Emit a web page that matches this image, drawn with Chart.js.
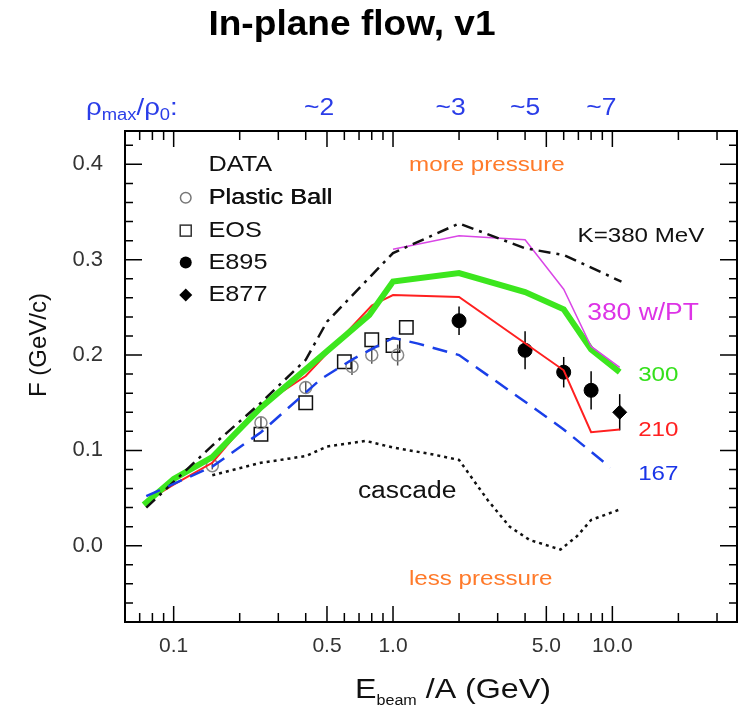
<!DOCTYPE html>
<html>
<head>
<meta charset="utf-8">
<script src="https://cdn.jsdelivr.net/npm/chart.js@4.4.1/dist/chart.umd.min.js"></script>
<style>
  html, body { margin: 0; padding: 0; background: #fff; }
</style>
</head>
<body>
<canvas id="flowChart" width="748" height="707"></canvas>
<script>
// Model curves (E_beam/A in GeV, F in GeV/c)
const k380X = [0.075, 0.15, 0.25, 0.4, 0.5, 1.0, 2.0, 4.0, 6.0, 11.0];
const k380Y = [0.040, 0.105, 0.150, 0.195, 0.235, 0.307, 0.338, 0.312, 0.305, 0.277];

const ptX = [1.0, 2.0, 4.0, 6.0, 8.0, 10.8];
const ptY = [0.311, 0.325, 0.321, 0.269, 0.209, 0.187];

const k300X = [0.073, 0.1, 0.15, 0.25, 0.4, 0.78, 1.0, 2.0, 4.0, 6.0, 8.0, 10.8];
const k300Y = [0.043, 0.070, 0.093, 0.145, 0.185, 0.242, 0.277, 0.286, 0.266, 0.248, 0.206, 0.182];

const k210X = [0.073, 0.1, 0.15, 0.25, 0.4, 0.8, 1.0, 2.0, 6.0, 8.0, 10.8];
const k210Y = [0.045, 0.064, 0.087, 0.147, 0.178, 0.252, 0.263, 0.261, 0.184, 0.119, 0.122];

const k167X = [0.075, 0.15, 0.25, 0.47, 0.66, 1.0, 1.3, 2.0, 4.0, 6.0, 9.8];
const k167Y = [0.052, 0.083, 0.119, 0.175, 0.196, 0.218, 0.212, 0.200, 0.151, 0.122, 0.082];

const cascX = [0.15, 0.25, 0.4, 0.5, 0.75, 1.0, 1.5, 2.0, 2.7, 3.4, 4.2, 5.8, 6.9, 8.0, 10.8];
const cascY = [0.074, 0.087, 0.094, 0.104, 0.110, 0.103, 0.096, 0.090, 0.048, 0.020, 0.006, -0.004, 0.010, 0.027, 0.038];

// Data
const pbX = [0.15, 0.25, 0.4, 0.65, 0.8, 1.05];
const pbY = [0.084, 0.129, 0.166, 0.188, 0.200, 0.200];
const pbErr = [0.004, 0.006, 0.006, 0.009, 0.009, 0.011];

const eosX = [0.25, 0.4, 0.6, 0.8, 1.0, 1.15];
const eosY = [0.117, 0.150, 0.193, 0.216, 0.210, 0.229];

const e895X = [2.0, 4.0, 6.0, 8.0];
const e895Y = [0.236, 0.205, 0.182, 0.163];
const e895Err = [0.015, 0.020, 0.016, 0.020];

const e877X = [10.8];
const e877Y = [0.140];
const e877Err = [0.019];

// Axis ticks
const xMajor = [0.1, 0.5, 1, 5, 10];
const xMajorLabels = ['0.1', '0.5', '1.0', '5.0', '10.0'];
const xMinor = [0.07, 0.08, 0.09, 0.2, 0.3, 0.4, 0.6, 0.7, 0.8, 0.9, 2, 3, 4, 6, 7, 8, 9, 20, 30];
const yMajor = [0.0, 0.1, 0.2, 0.3, 0.4];
const yMinor = [-0.06, -0.04, -0.02, 0.02, 0.04, 0.06, 0.08, 0.12, 0.14, 0.16, 0.18, 0.22, 0.24, 0.26, 0.28, 0.32, 0.34, 0.36, 0.38, 0.42];

// rho_max/rho_0 labels along top axis
const rhoX = [0.46, 1.83, 4.0, 8.9];
const rhoLabels = ['~2', '~3', '~5', '~7'];

const toPts = (xs, ys) => xs.map((v, i) => ({x: v, y: ys[i]}));

const FONT = 'Liberation Sans, Arial, sans-serif';
const SX = 1.15; // text in the original is a bit wide

const lineSet = (label, xs, ys, color, width, dash) => ({
    type: 'line',
    label: label,
    data: toPts(xs, ys),
    borderColor: color,
    borderWidth: width,
    borderDash: dash,
    pointRadius: 0,
    fill: false,
    tension: 0
});

// draw stretched text at pixel position
function wideText(ctx, str, px, py, align) {
    ctx.save();
    ctx.translate(px, py);
    ctx.scale(SX, 1);
    ctx.textAlign = align || 'center';
    ctx.fillText(str, 0, 0);
    ctx.restore();
}

// text made of runs with subscripts, left aligned at px
function runs(ctx, parts, px, base, color) {
    ctx.save();
    ctx.translate(px, base);
    ctx.scale(SX, 1);
    ctx.fillStyle = color;
    ctx.textAlign = 'left';
    ctx.textBaseline = 'alphabetic';
    let cx = 0;
    parts.forEach(([s, size, dy]) => {
        ctx.font = size + 'px ' + FONT;
        ctx.fillText(s, cx, dy);
        cx += ctx.measureText(s).width;
    });
    ctx.restore();
}

// frame, ticks, error bars, text
const decorations = {
    id: 'decorations',
    beforeDatasetsDraw(chart) {
        const {ctx, scales: {x, y}} = chart;
        ctx.save();
        ctx.lineWidth = 1.5;
        const bars = (xs, ys, es, color) => {
            ctx.strokeStyle = color;
            xs.forEach((v, i) => {
                const px = x.getPixelForValue(v);
                ctx.beginPath();
                ctx.moveTo(px, y.getPixelForValue(ys[i] - es[i]));
                ctx.lineTo(px, y.getPixelForValue(ys[i] + es[i]));
                ctx.stroke();
            });
        };
        bars(pbX, pbY, pbErr, '#555');
        bars(e895X, e895Y, e895Err, '#000');
        bars(e877X, e877Y, e877Err, '#000');
        ctx.restore();
    },
    afterDatasetsDraw(chart) {
        const {ctx, chartArea: a, scales: {x, y}} = chart;
        ctx.save();

        // frame
        ctx.strokeStyle = '#000';
        ctx.lineWidth = 2;
        ctx.strokeRect(a.left, a.top, a.right - a.left, a.bottom - a.top);

        // inward ticks on all sides
        ctx.lineWidth = 1.5;
        const xTick = (v, len) => {
            const px = x.getPixelForValue(v);
            ctx.beginPath();
            ctx.moveTo(px, a.bottom); ctx.lineTo(px, a.bottom - len);
            ctx.moveTo(px, a.top); ctx.lineTo(px, a.top + len);
            ctx.stroke();
        };
        const yTick = (v, len) => {
            const py = y.getPixelForValue(v);
            ctx.beginPath();
            ctx.moveTo(a.left, py); ctx.lineTo(a.left + len, py);
            ctx.moveTo(a.right, py); ctx.lineTo(a.right - len, py);
            ctx.stroke();
        };
        xMajor.forEach(v => xTick(v, 16));
        xMinor.forEach(v => xTick(v, 9));
        yMajor.forEach(v => yTick(v, 17));
        yMinor.forEach(v => yTick(v, 8));

        ctx.textBaseline = 'middle';
        const text = (str, vx, vy, color, size, align, weight) => {
            ctx.font = (weight || 'normal') + ' ' + size + 'px ' + FONT;
            ctx.fillStyle = color;
            wideText(ctx, str, x.getPixelForValue(vx), y.getPixelForValue(vy), align);
        };

        text('more pressure', 2.68, 0.399, '#ff7a2a', 21);
        text('less pressure', 2.51, -0.035, '#ff7a2a', 21);
        text('K=380 MeV', 13.5, 0.325, '#111', 21);
        text('380 w/PT', 13.8, 0.2435, '#dd33e6', 23);
        text('300', 16.2, 0.179, '#33e01a', 21);
        text('210', 16.2, 0.121, '#ff2020', 21);
        text('167', 16.2, 0.075, '#1a35e8', 21);
        text('cascade', 1.16, 0.057, '#111', 23);

        // legend
        const lx = x.getPixelForValue(0.1135);
        text('DATA', 0.144, 0.3995, '#111', 22, 'left');
        text('Plastic Ball', 0.144, 0.365, '#111', 22, 'left');
        ctx.font = '22px ' + FONT;
        wideText(ctx, 'Plastic Ball', x.getPixelForValue(0.144) + 0.6, y.getPixelForValue(0.365), 'left');
        text('EOS', 0.144, 0.3305, '#111', 22, 'left');
        text('E895', 0.144, 0.297, '#111', 22, 'left');
        text('E877', 0.144, 0.263, '#111', 22, 'left');
        ctx.lineWidth = 1.5;
        ctx.strokeStyle = '#777';
        ctx.beginPath();
        ctx.arc(lx, y.getPixelForValue(0.365), 5.3, 0, Math.PI * 2);
        ctx.stroke();
        ctx.strokeStyle = '#333';
        ctx.strokeRect(lx - 5.5, y.getPixelForValue(0.3305) - 5.5, 11, 11);
        ctx.fillStyle = '#000';
        ctx.beginPath();
        ctx.arc(lx, y.getPixelForValue(0.297), 6, 0, Math.PI * 2);
        ctx.fill();
        const dy = y.getPixelForValue(0.263);
        ctx.beginPath();
        ctx.moveTo(lx, dy - 6.5); ctx.lineTo(lx + 6.5, dy); ctx.lineTo(lx, dy + 6.5); ctx.lineTo(lx - 6.5, dy);
        ctx.closePath();
        ctx.fill();

        // rho_max / rho_0 labels
        ctx.fillStyle = '#2a3de8';
        ctx.textBaseline = 'alphabetic';
        ctx.font = '23px ' + FONT;
        rhoX.forEach((v, i) => wideText(ctx, rhoLabels[i], x.getPixelForValue(v), a.top - 16));
        runs(ctx, [['\u03c1', 24, 0], ['max', 16, 5], ['/\u03c1', 24, 0], ['0', 16, 5], [':', 24, 0]], 86, a.top - 16, '#2a3de8');

        // title
        ctx.fillStyle = '#000';
        ctx.textBaseline = 'middle';
        ctx.font = 'bold 35px ' + FONT;
        ctx.save();
        ctx.translate(352, 25);
        ctx.scale(1.06, 1);
        ctx.textAlign = 'center';
        ctx.fillText('In-plane flow, v1', 0, 0);
        ctx.restore();

        // y axis title
        ctx.save();
        ctx.translate(39, 345);
        ctx.rotate(-Math.PI / 2);
        ctx.font = '24px ' + FONT;
        ctx.fillStyle = '#111';
        ctx.textAlign = 'center';
        ctx.fillText('F (GeV/c)', 0, 0);
        ctx.restore();

        // x axis title with subscript
        runs(ctx, [['E', 28, 0], ['beam', 14, 7], [' /A (GeV)', 28, 0]], 355, 698, '#111');

        ctx.restore();
    }
};

const ctx = document.getElementById('flowChart').getContext('2d');
const chart = new Chart(ctx, {
    type: 'line',
    data: {
        datasets: [
            lineSet('cascade', cascX, cascY, '#111', 2.5, [3, 4]),
            lineSet('167', k167X, k167Y, '#1a3fe8', 2.5, [15, 9]),
            lineSet('K=380 MeV', k380X, k380Y, '#111', 2.5, [12, 6, 3, 6]),
            lineSet('380 w/PT', ptX, ptY, '#d946e6', 1.5, []),
            lineSet('300', k300X, k300Y, '#3ce61e', 6, []),
            lineSet('210', k210X, k210Y, '#ff2020', 2, []),
            {
                type: 'scatter',
                label: 'Plastic Ball',
                data: toPts(pbX, pbY),
                pointStyle: 'circle',
                pointRadius: 6,
                borderColor: '#888',
                borderWidth: 1.5,
                backgroundColor: 'rgba(0,0,0,0)'
            },
            {
                type: 'scatter',
                label: 'EOS',
                data: toPts(eosX, eosY),
                pointStyle: 'rect',
                pointRadius: 9.5,
                borderColor: '#111',
                borderWidth: 1.5,
                backgroundColor: 'rgba(255,255,255,0)'
            },
            {
                type: 'scatter',
                label: 'E895',
                data: toPts(e895X, e895Y),
                pointStyle: 'circle',
                pointRadius: 7,
                borderColor: '#000',
                backgroundColor: '#000'
            },
            {
                type: 'scatter',
                label: 'E877',
                data: toPts(e877X, e877Y),
                pointStyle: 'rectRot',
                pointRadius: 7,
                borderColor: '#000',
                backgroundColor: '#000'
            }
        ]
    },
    options: {
        responsive: false,
        animation: false,
        layout: { padding: { top: 131, right: 8, bottom: 0, left: 0 } },
        plugins: {
            legend: { display: false },
            tooltip: { enabled: false }
        },
        scales: {
            x: {
                type: 'logarithmic',
                min: 0.06,
                max: 37,
                grid: { display: false },
                border: { display: false },
                afterFit: (scale) => { scale.height = 85; },
                afterBuildTicks: (scale) => { scale.ticks = xMajor.map(v => ({value: v})); },
                ticks: {
                    autoSkip: false,
                    maxRotation: 0,
                    padding: 4,
                    color: '#333',
                    font: { family: FONT, size: 21 },
                    callback: (value) => xMajorLabels[xMajor.indexOf(value)]
                }
            },
            y: {
                min: -0.08,
                max: 0.435,
                grid: { display: false },
                border: { display: false },
                afterFit: (scale) => { scale.width = 125; },
                afterBuildTicks: (scale) => { scale.ticks = yMajor.map(v => ({value: v})); },
                ticks: {
                    padding: 14,
                    color: '#333',
                    font: { family: FONT, size: 22 },
                    callback: (value) => value.toFixed(1)
                }
            }
        }
    },
    plugins: [decorations]
});
</script>
</body>
</html>
